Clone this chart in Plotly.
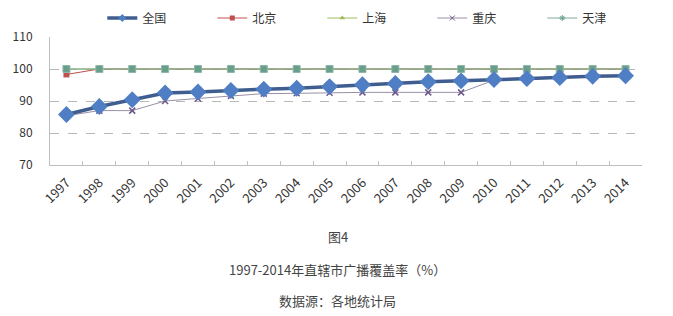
import plotly.graph_objects as go

years = [str(y) for y in range(1997, 2015)]
national = [85.8, 88.3, 90.4, 92.5, 92.8, 93.3, 93.7, 94.0, 94.5, 95.1, 95.5, 96.0, 96.3, 96.7, 97.0, 97.3, 97.7, 97.9]
beijing = [98.3] + [100.0] * 17
shanghai = [100.0] * 18
chongqing = [85.4, 87.0, 87.0, 90.0, 90.8, 91.6, 92.3, 92.4, 92.6, 92.7, 92.7, 92.7, 92.7, 96.5, 96.9, 97.3, 97.7, 97.9]
tianjin = [100.0] * 18

FONT = "Noto Sans CJK SC"
fig = go.Figure()

styles = {
    "全国": dict(line=dict(color="#3F5E8F", width=3.5), marker=dict(symbol="diamond", size=13, color="#4F7EC4")),
    "北京": dict(line=dict(color="#C0504D", width=1), marker=dict(symbol="square", size=6, color="#C0504D")),
    "上海": dict(line=dict(color="#9BBB59", width=1), marker=dict(symbol="triangle-up", size=6, color="#9BBB59")),
    "重庆": dict(line=dict(color="#9A8FA8", width=1), marker=dict(symbol="x-thin", size=6, color="#6A5A8A",
                                                             line=dict(color="#6A5A8A", width=1.5))),
    "天津": dict(line=dict(color="#7FA89A", width=1), marker=dict(symbol="square", size=7, color="#6A9E8C",
                                                             line=dict(color="#8FB8A8", width=1))),
}
legend_styles = {
    "全国": dict(line=dict(color="#3F5E8F", width=3.5), marker=dict(symbol="diamond", size=6, color="#4F7EC4")),
    "北京": dict(line=dict(color="#C0504D", width=1), marker=dict(symbol="square", size=5, color="#C0504D")),
    "上海": dict(line=dict(color="#9BBB59", width=1), marker=dict(symbol="triangle-up", size=5, color="#9BBB59")),
    "重庆": dict(line=dict(color="#9A8FA8", width=1), marker=dict(symbol="x-thin", size=5, color="#6A5A8A",
                                                             line=dict(color="#6A5A8A", width=1))),
    "天津": dict(line=dict(color="#7FA89A", width=1), marker=dict(symbol="asterisk", size=5, color="#6A9E8C",
                                                             line=dict(color="#6A9E8C", width=1))),
}

# drawing order (national on top)
for name, data in [("北京", beijing), ("上海", shanghai), ("天津", tianjin), ("重庆", chongqing), ("全国", national)]:
    fig.add_trace(go.Scatter(x=years, y=data, name=name, mode="lines+markers", showlegend=False, **styles[name]))

# legend entries
for rank, name in enumerate(["全国", "北京", "上海", "重庆", "天津"]):
    fig.add_trace(go.Scatter(x=[None], y=[None], name=name, mode="lines+markers", showlegend=True,
                             legendrank=rank + 1, **legend_styles[name]))

cap = dict(xref="paper", yref="paper", x=0.486, showarrow=False, yanchor="middle",
           font=dict(size=13, color="#444"))

fig.update_layout(
    width=673, height=316,
    margin=dict(l=50, r=31, t=37, b=151, autoexpand=False),
    paper_bgcolor="white", plot_bgcolor="white",
    font=dict(family=FONT, size=12, color="#333333"),
    showlegend=True,
    legend=dict(orientation="h", xref="container", x=0.152, xanchor="left",
                yref="container", y=1 - 18 / 316, yanchor="middle",
                entrywidth=65, entrywidthmode="pixels", font=dict(size=12, color="#333"),
                itemwidth=30, bgcolor="rgba(0,0,0,0)"),
    xaxis=dict(type="category", categoryorder="array", categoryarray=years,
               range=[-0.5, len(years) - 0.5], tickangle=-45, tickson="boundaries", ticks="inside",
               ticklen=4, tickcolor="#BFBFBF", showline=True, linecolor="#BFBFBF",
               showgrid=False, tickfont=dict(size=13, color="#333"), ticklabelstandoff=4,
               automargin=False),
    yaxis=dict(range=[70, 110], dtick=10, showline=True, linecolor="#BFBFBF",
               gridcolor="#B8B8B8", griddash="dash", gridwidth=1, zeroline=False,
               tickfont=dict(size=12, color="#333"), ticks="", ticklabelstandoff=14, automargin=False),
    annotations=[
        dict(text="图4", y=-0.555, **cap),
        dict(text="1997-2014年直辖市广播覆盖率（%）", y=-0.82, **cap),
        dict(text="数据源：各地统计局", y=-1.055, **cap),
    ],
)

fig.write_html("out.html")
